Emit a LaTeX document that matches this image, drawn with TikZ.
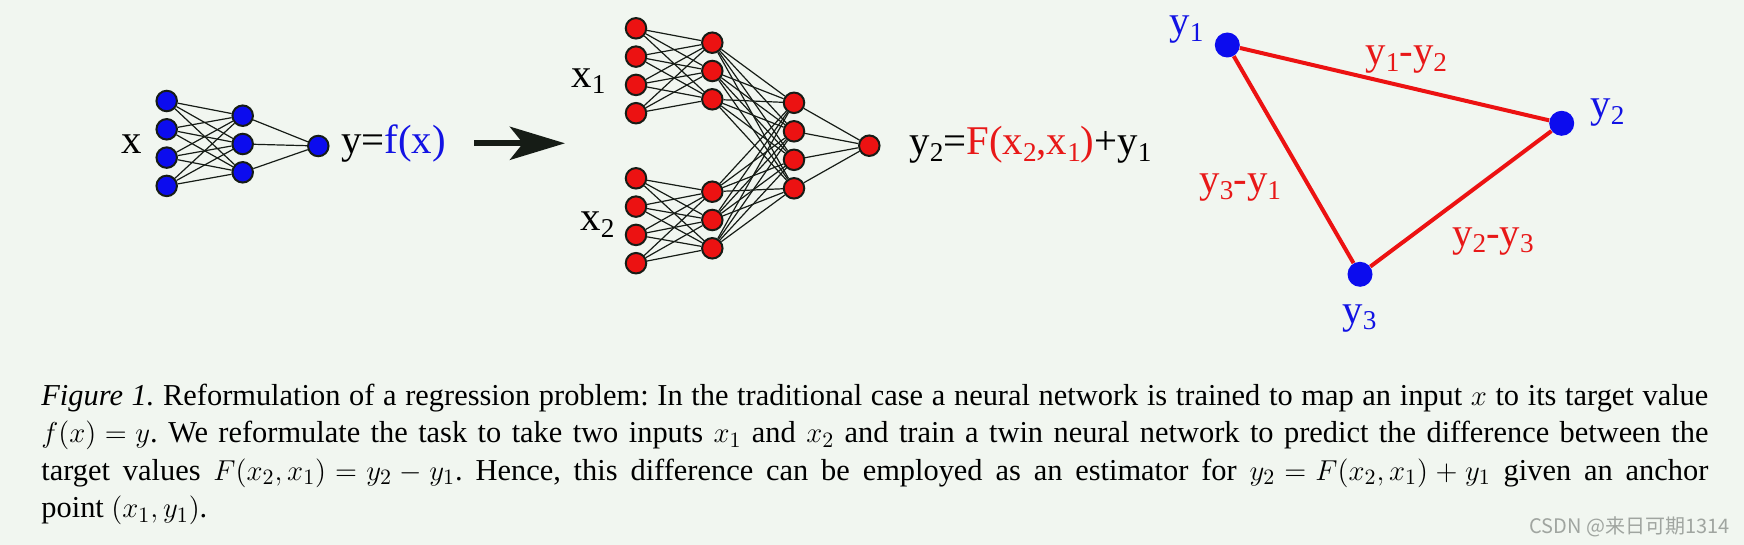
\documentclass[tikz,border=0pt]{standalone}
\usepackage{fontspec}
\setmainfont{Liberation Serif}
\newfontfamily\cjkfont{Noto Sans CJK SC}
\usepackage{tikz}
\usetikzlibrary{arrows.meta}
\usetikzlibrary{positioning}
\usepackage{xcolor}

\definecolor{bgcol}{RGB}{241,246,240}
\definecolor{nnblue}{RGB}{12,12,238}
\definecolor{nnred}{RGB}{236,18,18}
\definecolor{txtred}{RGB}{232,24,24}
\definecolor{txtblue}{RGB}{18,18,228}
\definecolor{darkline}{RGB}{22,28,22}
\definecolor{markgray}{RGB}{160,165,160}

\newcommand{\subidx}[1]{\raisebox{-0.16em}{\fontsize{13.6}{14}\selectfont #1}}
\newcommand{\capfont}{\fontsize{15.2}{18.75}\selectfont\frenchspacing
  \thickmuskip=5mu plus 0.5mu\relax
  \medmuskip=4mu plus 0.5mu minus 2mu\relax}

\begin{document}
\begin{tikzpicture}[x=0.5pt,y=-0.5pt,
    neuron/.style={circle,draw=darkline,line width=1pt,minimum size=10.25pt,inner sep=0pt},
    bluenode/.style={neuron,fill=nnblue},
    rednode/.style={neuron,fill=nnred},
    ydot/.style={circle,fill=nnblue,minimum size=12.5pt,inner sep=0pt},
    wire/.style={draw=darkline,line width=0.6pt},
    diffline/.style={draw=nnred,line width=2pt},
    lbl/.style={font=\fontsize{20.4}{24}\selectfont,inner sep=0pt,anchor=base west}]
  \useasboundingbox (0,0) rectangle (1744,545);
  \fill[bgcol] (0,0) rectangle (1744,545);

  % plain network
  \foreach \i in {1,...,4}
    \node[bluenode] (in\i) at (166.7,{72.7+28.3*\i}) {};
  \foreach \j in {1,...,3}
    \node[bluenode] (hid\j) at (242.7,{87.4+28.3*\j}) {};
  \node[bluenode] (out) at (318.3,146) {};
  \foreach \i in {1,...,4}
    \foreach \j in {1,...,3}
      \draw[wire] (in\i) -- (hid\j);
  \foreach \j in {1,...,3}
    \draw[wire] (hid\j) -- (out);
  \node[lbl] (xlbl) at (121,154) {x};
  \node[lbl] (ylbl) at (341,154) {y=\textcolor{txtblue}{f(x)}};

  % arrow
  \coordinate (arrS) at (474,143.3);
  \coordinate (arrE) at (565,143.3);
  \draw[darkline,line width=3pt,-{Stealth[length=27.5pt,width=16.5pt,inset=6.5pt]}] (arrS) -- (arrE);

  % twin network
  \foreach \i in {1,...,4} {
    \node[rednode] (u\i) at (636,{28.3*\i}) {};
    \node[rednode] (v\i) at (636,{150+28.3*\i}) {};
  }
  \foreach \j in {1,...,3} {
    \node[rednode] (hu\j) at (712.3,{14.4+28.3*\j}) {};
    \node[rednode] (hv\j) at (712.3,{163.4+28.3*\j}) {};
  }
  \foreach \k in {1,...,4}
    \node[rednode] (h\k) at (794,{74.3+28.5*\k}) {};
  \node[rednode] (twin) at (869.3,145.7) {};
  \foreach \i in {1,...,4}
    \foreach \j in {1,...,3} {
      \draw[wire] (u\i) -- (hu\j);
      \draw[wire] (v\i) -- (hv\j);
    }
  \foreach \j in {1,...,3}
    \foreach \k in {1,...,4} {
      \draw[wire] (hu\j) -- (h\k);
      \draw[wire] (hv\j) -- (h\k);
    }
  \foreach \k in {1,...,4}
    \draw[wire] (h\k) -- (twin);
  \node[lbl] (x1lbl) at (571,87.3) {x\subidx{1}};
  \node[lbl] (x2lbl) at (580,230.7) {x\subidx{2}};
  \node[lbl] (eqlbl) at (909,155) {y\subidx{2}=\textcolor{txtred}{F(x\subidx{2},x\subidx{1})}+y\subidx{1}};

  % triangle of differences
  \node[ydot] (t1) at (1227.3,45) {};
  \node[ydot] (t2) at (1561.7,123.3) {};
  \node[ydot] (t3) at (1360,274.3) {};
  \draw[diffline] (t1) -- (t2);
  \draw[diffline] (t2) -- (t3);
  \draw[diffline] (t3) -- (t1);
  \node[lbl,text=txtblue] (t1lbl) at (1169,34.7) {y\subidx{1}};
  \node[lbl,text=txtblue] (t2lbl) at (1590,118) {y\subidx{2}};
  \node[lbl,text=txtblue] (t3lbl) at (1342,323) {y\subidx{3}};
  \node[lbl,text=txtred] (d12) at (1365,64.7) {y\subidx{1}-y\subidx{2}};
  \node[lbl,text=txtred] (d31) at (1199,193) {y\subidx{3}-y\subidx{1}};
  \node[lbl,text=txtred] (d23) at (1451.7,246.3) {y\subidx{2}-y\subidx{3}};

  % caption
  \node[anchor=north west,text width=833.5pt,align=justify,inner sep=0pt,font=\capfont] (cap) at (41,383.6)
    {\textit{Figure 1.} Reformulation of a regression problem: In the traditional case a neural network is trained to map an input $x$ to its target value\linebreak
     $f(x)=y$. We reformulate the task to take two inputs $x_1$ and $x_2$ and train a twin neural network to predict the difference between the\linebreak
     target values $F(x_2,x_1)=y_2-y_1$. Hence, this difference can be employed as an estimator for $y_2=F(x_2,x_1)+y_1$ given an anchor\linebreak
     point $(x_1,y_1)$.};
  \node[anchor=base west,inner sep=0pt,text=markgray,font=\cjkfont\fontsize{10}{12}\selectfont] (mark) at (1529,533) {CSDN @来日可期1314};
\end{tikzpicture}
\end{document}
